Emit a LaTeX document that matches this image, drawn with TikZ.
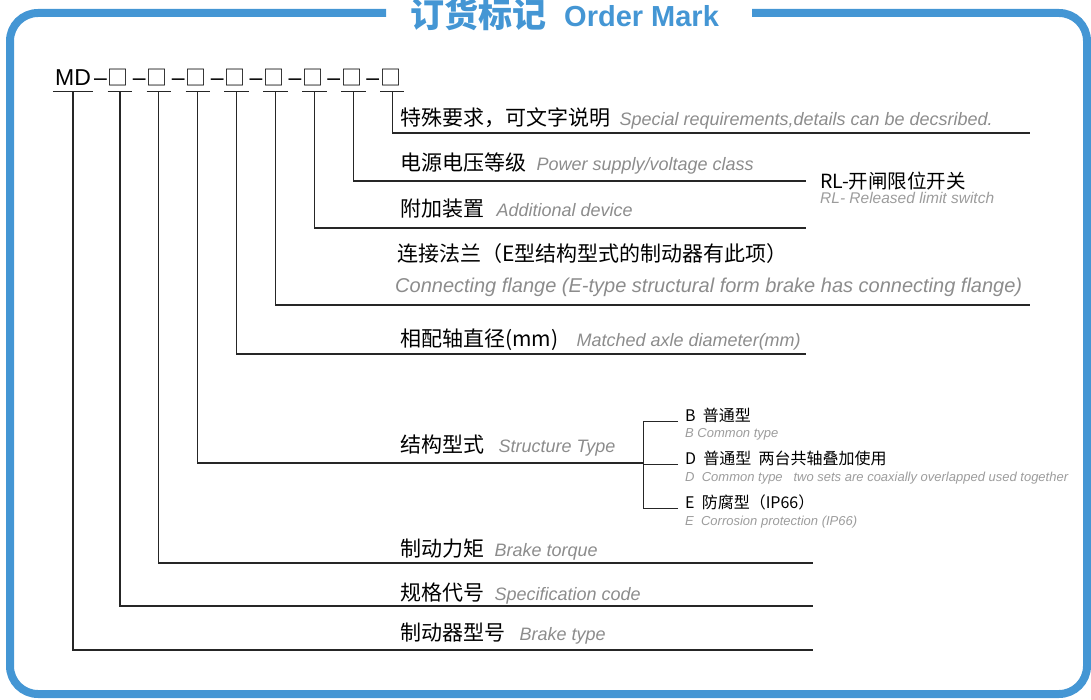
\documentclass[tikz,border=0pt]{standalone}
\usepackage{fontspec}
\setmainfont{Liberation Sans}
\newfontfamily\cjk{Noto Sans CJK SC}
\usetikzlibrary{positioning,calc}
\definecolor{frameblue}{HTML}{4496D4}
\definecolor{engray}{HTML}{8C8C8C}
\definecolor{subgray}{HTML}{9C9C9C}
\tikzset{
  frame/.style    = {draw=frameblue, line width=8pt, rounded corners=28pt},
  wire/.style     = {draw=black!85, line width=1.2pt},
  code/.style     = {inner sep=0pt, text height=17pt, text depth=5pt,
                     font=\fontsize{23}{26}\selectfont},
  slot/.style     = {code, text width=24pt, align=left,
                     font=\cjk\fontsize{21}{24}\selectfont},
  zh/.style       = {inner sep=0pt, anchor=base west,
                     font=\cjk\fontsize{21}{25}\selectfont},
  en/.style       = {inner sep=0pt, anchor=base west, text=engray,
                     font=\itshape\fontsize{18}{22}\selectfont},
  zh small/.style = {inner sep=0pt, anchor=base west,
                     font=\cjk\fontsize{16}{19}\selectfont},
  en small/.style = {inner sep=0pt, anchor=base west, text=subgray,
                     font=\itshape\fontsize{13}{16}\selectfont},
  title zh/.style = {inner sep=0pt, text=frameblue,
                     font=\cjk\bfseries\fontsize{34}{37}\selectfont},
  title en/.style = {inner sep=0pt, text=frameblue,
                     font=\bfseries\fontsize{29}{32}\selectfont}
}

\begin{document}
\begin{tikzpicture}[x=1pt, y=-1pt]
\useasboundingbox (0,0) rectangle (1091,700);

% blue frame, open at the top for the title
\draw[frame] (386,13) -- (10,13) -- (10,694) -- (1087,694) -- (1087,13) -- (752,13);
\node[title zh, anchor=base east] (tzh) at (547,28) {订货标记};
\node[title en, anchor=base west] (ten) at (564,27) {Order Mark};

% the order code, MD followed by eight slots
\node[code, minimum width=40pt] (m0) at (73,80) {MD};
\foreach \k [remember=\k as \j (initially 0)] in {1,...,8}{
  \node[slot, right=14.5pt of m\j] (m\k) {□};
  \node[code] (d\k) at ($(m\j.east)!.5!(m\k.west)$) {\textendash};
}
\foreach \k in {0,...,8}
  \draw[wire] (m\k.south west) -- (m\k.south east);

% meaning of each slot, Chinese first, English after it
\node[zh] (zh8) at (400,126) {特殊要求，可文字说明};
\node[zh] (zh7) at (400,171) {电源电压等级};
\node[zh] (zh6) at (400,217) {附加装置};
\node[zh] (zh5) at (397,262) {连接法兰（E型结构型式的制动器有此项）};
\node[zh] (zh4) at (400,346) {相配轴直径(mm)};
\node[zh] (zh3) at (400,452) {结构型式};
\node[zh] (zh2) at (400,556) {制动力矩};
\node[zh] (zh1) at (400,600) {规格代号};
\node[zh] (zh0) at (400,640) {制动器型号};

\node[en] (en8) at ([xshift=9pt]zh8.base east) {Special requirements,details can be decsribed.};
\node[en] (en7) at ([xshift=10pt]zh7.base east) {Power supply/voltage class};
\node[en] (en6) at ([xshift=12pt]zh6.base east) {Additional device};
\node[en, font=\itshape\fontsize{20}{24}\selectfont] (en5) at (395,293) {Connecting flange (E-type structural form brake has connecting flange)};
\node[en, font=\itshape\fontsize{18}{21}\selectfont] (en4) at ([xshift=18pt]zh4.base east) {Matched axle diameter(mm)};
\node[en] (en3) at ([xshift=14pt]zh3.base east) {Structure Type};
\node[en] (en2) at ([xshift=10pt]zh2.base east) {Brake torque};
\node[en] (en1) at ([xshift=10pt]zh1.base east) {Specification code};
\node[en] (en0) at ([xshift=14pt]zh0.base east) {Brake type};

% option of the additional device
\node[zh small, font=\cjk\fontsize{19.5}{22}\selectfont] (rl) at (820,189) {RL-开闸限位开关};
\node[en small, font=\itshape\fontsize{15.5}{18}\selectfont] (rlen) at ([yshift=-15pt]rl.base west) {RL- Released limit switch};

% options of the structure type
\node[zh small] (sB) at (685,421) {B \ 普通型};
\node[zh small] (sD) at (685,464) {D \ 普通型 \ 两台共轴叠加使用};
\node[zh small] (sE) at (685,508) {E \ 防腐型（IP66）};
\node[en small] (eB) at ([yshift=-16pt]sB.base west) {B Common type};
\node[en small] (eD) at ([yshift=-17pt]sD.base west) {D \ Common type \ \ two sets are coaxially overlapped used together};
\node[en small] (eE) at ([yshift=-17pt]sE.base west) {E \ Corrosion protection (IP66)};

% leader lines from each slot to its line
\foreach \k/\x/\y in {8/1030/133, 7/806/181, 6/806/228, 5/1030/305, 4/806/354,
                      3/643/463, 2/813/563, 1/813/606, 0/813/650}{
  \coordinate (r\k) at (\x,\y);
  \draw[wire] (m\k.south) |- (r\k);
}

% bracket of the structure type
\foreach \s in {B,D,E}
  \draw[wire, line width=1pt] ([xshift=-7pt]s\s.base west) -| (r3);
\end{tikzpicture}
\end{document}
